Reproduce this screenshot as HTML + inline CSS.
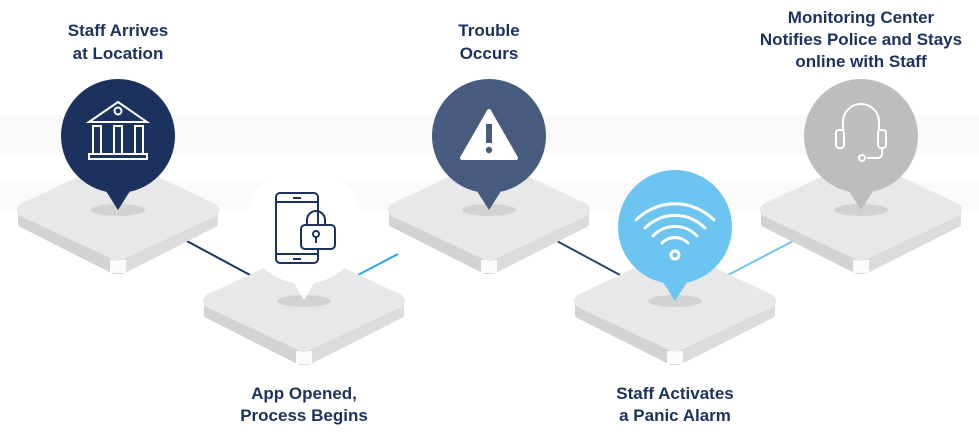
<!DOCTYPE html>
<html><head><meta charset="utf-8"><style>
html,body{margin:0;padding:0;background:#fff;}
svg{display:block;}
text{font-family:"Liberation Sans",sans-serif;font-weight:bold;font-size:17px;fill:#1b325f;text-anchor:middle;}
</style></head><body>
<svg width="979" height="437" viewBox="0 0 979 437" xmlns="http://www.w3.org/2000/svg">
<defs>
<g id="plat">
  <path d="M-97,0 L-97,14 L-4,61 L0,61 L0,47 Z" fill="#d3d3d3" stroke="#d3d3d3" stroke-width="6" stroke-linejoin="round"/>
  <path d="M97,0 L97,14 L4,61 L0,61 L0,47 Z" fill="#dcdcdc" stroke="#dcdcdc" stroke-width="6" stroke-linejoin="round"/>
  <rect x="-8" y="50" width="16" height="13" fill="#fbfbfb"/>
  <polygon points="0,-44 94,0 0,44 -94,0" fill="#e8e8e8" stroke="#e8e8e8" stroke-width="14" stroke-linejoin="round"/>
  <ellipse cx="0" cy="0" rx="27" ry="6" fill="#d2d2d2"/>
</g>
</defs>
<rect x="0" y="115" width="979" height="40" fill="#fafafb"/>
<rect x="0" y="180" width="979" height="30" fill="#fbfbfc"/>

<line x1="185" y1="240" x2="250" y2="275" stroke="#1b325f" stroke-width="2"/>
<line x1="358" y1="275" x2="398" y2="254" stroke="#2aa4e2" stroke-width="2"/>
<line x1="555" y1="240" x2="620" y2="275" stroke="#2e4468" stroke-width="2"/>
<line x1="728" y1="275" x2="795" y2="240" stroke="#6cc5f0" stroke-width="2"/>

<use href="#plat" x="118" y="210"/>
<use href="#plat" x="304" y="301"/>
<use href="#plat" x="489" y="210"/>
<use href="#plat" x="675" y="301"/>
<use href="#plat" x="861" y="210"/>

<g>
  <circle cx="118" cy="136" r="57" fill="#1b325f"/>
  <polygon points="104,188 132,188 118,210" fill="#1b325f"/>
  <g stroke="#fff" stroke-width="2" fill="none">
    <polygon points="89,122 118,102 147,122"/>
    <circle cx="118" cy="111" r="3.5"/>
    <rect x="93" y="126" width="8" height="28"/><rect x="114" y="126" width="8" height="28"/><rect x="135" y="126" width="8" height="28"/>
    <rect x="89" y="154" width="58" height="5"/>
  </g>
</g>
<g>
  <circle cx="304" cy="226" r="58" fill="#fff"/>
  <polygon points="290,276 318,276 304,300" fill="#fff"/>
  <g stroke="#1b325f" stroke-width="2" fill="none">
    <rect x="276" y="193" width="42" height="70" rx="4"/>
    <line x1="276" y1="202" x2="318" y2="202"/><line x1="276" y1="254" x2="318" y2="254"/>
    <line x1="293" y1="198" x2="301" y2="198"/><line x1="293" y1="259" x2="301" y2="259"/>
    <path d="M307,225 v-5 a9,9 0 0 1 18,0 v5"/>
    <rect x="301" y="225" width="34" height="24" rx="4" fill="#fff"/>
    <circle cx="316" cy="234" r="3"/><line x1="316" y1="237" x2="316" y2="243"/>
  </g>
</g>
<g>
  <circle cx="489" cy="136" r="57" fill="#475b7e"/>
  <polygon points="475,188 503,188 489,210" fill="#475b7e"/>
  <polygon points="489,111 462,158 516,158" fill="#fff" stroke="#fff" stroke-width="4" stroke-linejoin="round"/>
  <rect x="486" y="124" width="6" height="19" fill="#475b7e"/>
  <circle cx="489" cy="150" r="3.2" fill="#475b7e"/>
</g>
<g>
  <circle cx="675" cy="227" r="57" fill="#6cc5f0"/>
  <polygon points="661,279 689,279 675,301" fill="#6cc5f0"/>
  <g stroke="#fff" stroke-width="3" fill="none" stroke-linecap="round">
    <path d="M636,220 a55,55 0 0 1 78,0"/>
    <path d="M645,228 a42,42 0 0 1 60,0"/>
    <path d="M653,236 a30,30 0 0 1 44,0"/>
    <path d="M662,243 a18,18 0 0 1 26,0"/>
    <circle cx="675" cy="255" r="4"/>
  </g>
</g>
<g>
  <circle cx="861" cy="136" r="57" fill="#bdbdbd"/>
  <polygon points="847,188 875,188 861,210" fill="#bdbdbd"/>
  <g stroke="#fff" stroke-width="2" fill="none">
    <path d="M843,130 v-8 a18,18 0 0 1 36,0 v8"/>
    <rect x="836" y="130" width="8" height="18" rx="3"/>
    <rect x="878" y="130" width="8" height="18" rx="3"/>
    <path d="M882,148 v6 a4,4 0 0 1 -4,4 h-11"/>
    <circle cx="862" cy="158" r="3"/>
  </g>
</g>

<text x="118" y="36">Staff Arrives</text>
<text x="118" y="59">at Location</text>
<text x="489" y="36">Trouble</text>
<text x="489" y="59">Occurs</text>
<text x="861" y="23">Monitoring Center</text>
<text x="861" y="45">Notifies Police and Stays</text>
<text x="861" y="67">online with Staff</text>
<text x="304" y="399">App Opened,</text>
<text x="304" y="421">Process Begins</text>
<text x="675" y="399">Staff Activates</text>
<text x="675" y="421">a Panic Alarm</text>
</svg>
</body></html>
